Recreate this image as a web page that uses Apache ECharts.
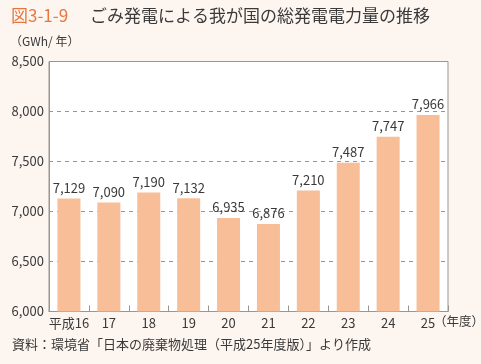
<!DOCTYPE html>
<html><head><meta charset="utf-8">
<script src="https://cdn.jsdelivr.net/npm/echarts@6/dist/echarts.min.js"></script>
<style>html,body{margin:0;padding:0;background:#fdf5f0;}#c{width:481px;height:364px;}</style>
</head><body><div id="c"></div>
<script>
const categories = ['平成16','17','18','19','20','21','22','23','24','25'];
const values = [7129, 7090, 7190, 7132, 6935, 6876, 7210, 7487, 7747, 7966];
const yTicks = [6000, 6500, 7000, 7500, 8000, 8500];
const titleNum = '図3-1-9';
const titleText = 'ごみ発電による我が国の総発電電力量の推移';
const unitText = '（GWh/ 年）';
const xUnitText = '（年度）';
const sourceText = '資料：環境省「日本の廃棄物処理（平成25年度版）」より作成';

const font = '"Noto Sans CJK JP","Noto Sans",sans-serif';
const chart = echarts.init(document.getElementById('c'), null, {renderer:'canvas'});
chart.setOption({
  backgroundColor: '#fdf5f0',
  animation: false,
  textStyle: {fontFamily: font},
  graphic: [
    {type:'text', left: 11, top: 7, style:{text: titleNum, fill:'#e8773f', font:'17px ' + font}},
    {type:'text', left: 90, top: 7, style:{text: titleText, fill:'#3a3a3a', font:'17px ' + font}},
    {type:'text', left: 10, top: 35, style:{text: unitText, fill:'#3a3a3a', font:'12px ' + font}},
    {type:'text', left: 434, top: 315, style:{text: xUnitText, fill:'#3a3a3a', font:'12.5px ' + font}},
    {type:'text', left: 12, top: 338, style:{text: sourceText, fill:'#3a3a3a', font:'13px ' + font}}
  ],
  grid: {left: 49, right: 33, top: 61.5, bottom: 52.5, show: true, backgroundColor:'#ffffff', borderColor:'#9b9590', borderWidth:1},
  xAxis: {
    type:'category', data: categories,
    axisLine:{show:true, lineStyle:{color:'#9b9590'}},
    axisTick:{show:true, inside:true, length:6, lineStyle:{color:'#9b9590'}},
    axisLabel:{color:'#3a3a3a', fontSize:13, margin:5, interval:0, fontFamily: font}
  },
  yAxis: {
    type:'value', min: yTicks[0], max: yTicks[yTicks.length-1], interval: 500,
    axisLine:{show:true, lineStyle:{color:'#9b9590'}},
    axisTick:{show:false},
    axisLabel:{color:'#3a3a3a', fontSize:13, margin:5, fontFamily: font,
      formatter: v => v.toLocaleString('en-US')},
    splitLine:{show:true, lineStyle:{color:'#9b9590', type:[4,4], width:1}}
  },
  series: [{
    type:'bar', data: values, barWidth: 23,
    itemStyle:{color:'#f7be97'},
    label:{show:true, position:'top', distance:4, color:'#3a3a3a', fontSize:13, fontFamily: font,
      formatter: p => p.value.toLocaleString('en-US')}
  }]
});
</script></body></html>
